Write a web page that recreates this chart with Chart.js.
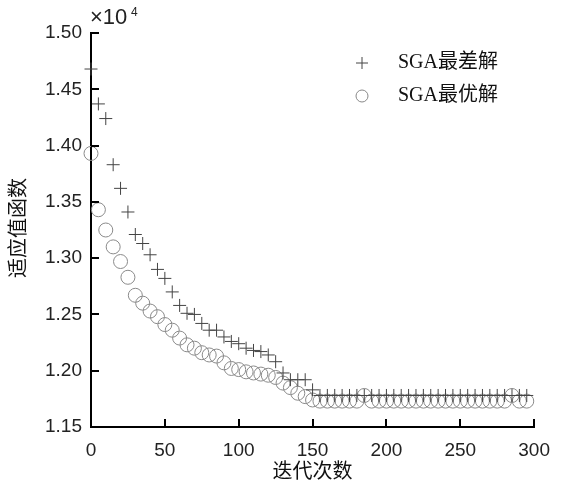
<!DOCTYPE html>
<html>
<head>
<meta charset="utf-8">
<script src="https://cdn.jsdelivr.net/npm/chart.js@4/dist/chart.umd.min.js"></script>
<style>
  html, body { margin: 0; padding: 0; background: #fff; }
  #wrap { width: 562px; height: 489px; position: relative; }
</style>
</head>
<body>
<div id="wrap"><canvas id="myChart"></canvas></div>
<script>
// Iteration numbers (x) and fitness values in units of 10^4
const iterations = [
  0, 5, 10, 15, 20, 25, 30, 35, 40, 45,
  50, 55, 60, 65, 70, 75, 80, 85, 90, 95,
  100, 105, 110, 115, 120, 125, 130, 135, 140, 145,
  150, 155, 160, 165, 170, 175, 180, 185, 190, 195,
  200, 205, 210, 215, 220, 225, 230, 235, 240, 245,
  250, 255, 260, 265, 270, 275, 280, 285, 290, 295
];

const worstValues = [
  1.468, 1.437, 1.424, 1.383, 1.362, 1.341, 1.321, 1.313, 1.303, 1.290,
  1.282, 1.270, 1.258, 1.251, 1.250, 1.242, 1.236, 1.236, 1.230, 1.226,
  1.224, 1.220, 1.218, 1.217, 1.214, 1.208, 1.198, 1.192, 1.192, 1.192,
  1.183, 1.178, 1.178, 1.178, 1.178, 1.178, 1.178, 1.178, 1.178, 1.178,
  1.178, 1.178, 1.178, 1.178, 1.178, 1.178, 1.178, 1.178, 1.178, 1.178,
  1.178, 1.178, 1.178, 1.178, 1.178, 1.178, 1.178, 1.178, 1.178, 1.178
];

const bestValues = [
  1.393, 1.343, 1.325, 1.310, 1.297, 1.283, 1.267, 1.260, 1.253, 1.248,
  1.241, 1.236, 1.229, 1.223, 1.220, 1.216, 1.214, 1.213, 1.207, 1.202,
  1.201, 1.199, 1.198, 1.197, 1.196, 1.194, 1.189, 1.185, 1.180, 1.177,
  1.174, 1.173, 1.173, 1.173, 1.173, 1.173, 1.173, 1.178, 1.173, 1.173,
  1.173, 1.173, 1.173, 1.173, 1.173, 1.173, 1.173, 1.173, 1.173, 1.173,
  1.173, 1.173, 1.173, 1.173, 1.173, 1.173, 1.173, 1.178, 1.173, 1.173
];

const seriesNames = ['SGA最差解', 'SGA最优解'];
const xTitle = '迭代次数';
const yTitle = '适应值函数';

const tickFont = { family: "'Liberation Sans', Arial, sans-serif", size: 19 };
const cjkFont = "20px 'Noto Sans CJK SC', sans-serif";

function toPoints(values) {
  return iterations.map((x, i) => ({ x: x, y: values[i] }));
}

// Inward tick marks, axis titles, exponent label and legend
const decorations = {
  id: 'decorations',
  afterDraw(chart) {
    const { ctx, chartArea, scales } = chart;
    const xs = scales.x;
    const ys = scales.y;
    ctx.save();
    ctx.strokeStyle = '#000';
    ctx.lineWidth = 2;
    ys.ticks.forEach(t => {
      const py = Math.round(ys.getPixelForValue(t.value));
      ctx.beginPath();
      ctx.moveTo(chartArea.left, py);
      ctx.lineTo(chartArea.left + 8, py);
      ctx.stroke();
    });
    xs.ticks.forEach(t => {
      const px = Math.round(xs.getPixelForValue(t.value));
      ctx.beginPath();
      ctx.moveTo(px, chartArea.bottom);
      ctx.lineTo(px, chartArea.bottom - 8);
      ctx.stroke();
    });

    ctx.fillStyle = '#111';
    ctx.font = cjkFont;
    ctx.textAlign = 'center';
    ctx.textBaseline = 'middle';
    ctx.fillText(xTitle, (chartArea.left + chartArea.right) / 2, 470);

    ctx.save();
    ctx.translate(17, 228);
    ctx.rotate(-Math.PI / 2);
    ctx.fillText(yTitle, 0, 0);
    ctx.restore();

    // x10^4 multiplier
    ctx.fillStyle = '#222';
    ctx.textAlign = 'left';
    ctx.textBaseline = 'alphabetic';
    ctx.font = "22px 'Liberation Sans', sans-serif";
    ctx.fillText('×10', 90, 24);
    ctx.font = "12px 'Liberation Sans', sans-serif";
    ctx.fillText('4', 131, 16);

    // legend
    const lx = 362;
    const rows = [63, 96];
    ctx.lineWidth = 1;
    ctx.strokeStyle = '#444';
    ctx.beginPath();
    ctx.moveTo(lx - 6, rows[0]);
    ctx.lineTo(lx + 6, rows[0]);
    ctx.moveTo(lx, rows[0] - 6);
    ctx.lineTo(lx, rows[0] + 6);
    ctx.stroke();
    ctx.strokeStyle = '#888';
    ctx.beginPath();
    ctx.arc(lx, rows[1], 6, 0, Math.PI * 2);
    ctx.stroke();

    ctx.fillStyle = '#111';
    ctx.font = "20px 'Liberation Serif', 'Noto Sans CJK SC', serif";
    ctx.textBaseline = 'middle';
    seriesNames.forEach((name, i) => ctx.fillText(name, 398, rows[i]));
    ctx.restore();
  }
};

const chart = new Chart(document.getElementById('myChart').getContext('2d'), {
  type: 'scatter',
  data: {
    datasets: [
      {
        label: seriesNames[0],
        data: toPoints(worstValues),
        pointStyle: 'cross',
        pointRadius: 6.5,
        borderColor: '#444',
        backgroundColor: 'transparent',
        borderWidth: 1,
        clip: false
      },
      {
        label: seriesNames[1],
        data: toPoints(bestValues),
        pointStyle: 'circle',
        pointRadius: 7,
        borderColor: '#8a8a8a',
        backgroundColor: 'transparent',
        borderWidth: 1,
        clip: false
      }
    ]
  },
  options: {
    responsive: true,
    maintainAspectRatio: false,
    animation: false,
    layout: { padding: { left: 0, top: 33, right: 26, bottom: 0 } },
    plugins: {
      legend: { display: false },
      tooltip: { enabled: false }
    },
    scales: {
      x: {
        type: 'linear',
        min: 0,
        max: 300,
        afterFit(scale) { scale.height = 62; },
        grid: { drawOnChartArea: false, drawTicks: false },
        border: { color: '#000', width: 2 },
        ticks: { stepSize: 50, padding: 12, color: '#222', font: tickFont, maxRotation: 0 }
      },
      y: {
        type: 'linear',
        min: 1.15,
        max: 1.5,
        afterFit(scale) { scale.width = 91; },
        grid: { drawOnChartArea: false, drawTicks: false },
        border: { color: '#000', width: 2 },
        ticks: {
          stepSize: 0.05,
          padding: 9,
          color: '#222',
          font: tickFont,
          callback: v => v.toFixed(2)
        }
      }
    }
  },
  plugins: [decorations]
});
</script>
</body>
</html>
